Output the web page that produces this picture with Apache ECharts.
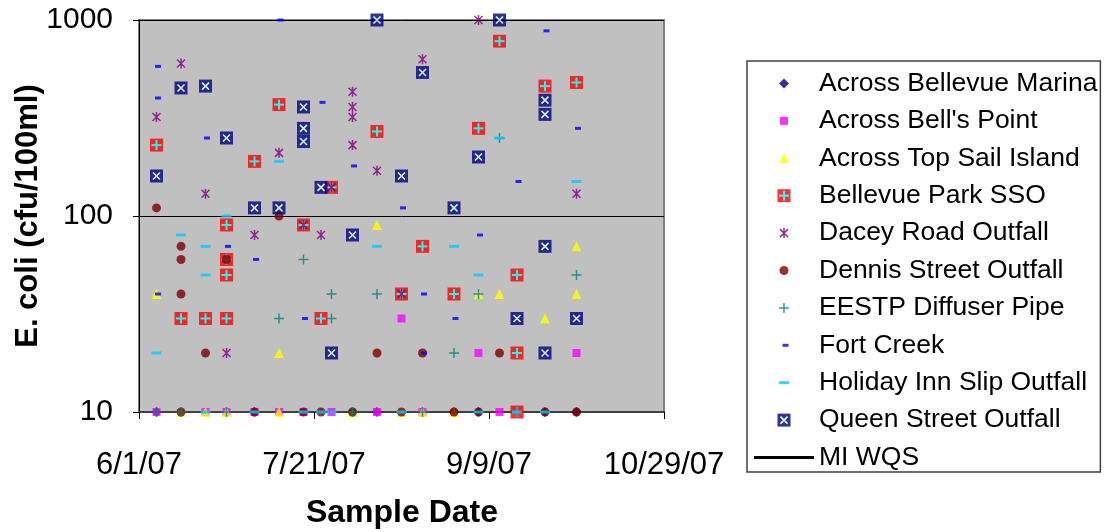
<!DOCTYPE html>
<html>
<head>
<meta charset="utf-8">
<script src="https://cdn.jsdelivr.net/npm/echarts@6/dist/echarts.min.js"></script>
<style>
  html, body { margin: 0; padding: 0; background: #fff; }
  #chart1 { width: 1104px; height: 532px; }
</style>
</head>
<body>
<div id="chart1"></div>
<script>
// sample data, [date, cfu/100ml]
var marinaData = [['6/6/07', 10], ['7/4/07', 10], ['8/1/07', 10], ['8/8/07', 10], ['8/30/07', 10], ['9/6/07', 10], ['9/25/07', 10], ['10/4/07', 10]];
var bellsPointData = [['6/6/07', 10], ['6/20/07', 10], ['6/26/07', 10], ['7/4/07', 10], ['7/11/07', 10], ['7/18/07', 10], ['7/26/07', 10], ['8/8/07', 10], ['8/15/07', 30], ['8/21/07', 10], ['9/6/07', 20], ['9/12/07', 10], ['10/4/07', 20]];
var topSailData = [['6/6/07', 40], ['6/13/07', 10], ['6/20/07', 10], ['6/26/07', 10], ['7/11/07', 20], ['7/11/07', 10], ['8/1/07', 10], ['8/8/07', 90], ['8/15/07', 10], ['8/21/07', 10], ['8/30/07', 10], ['9/6/07', 40], ['9/12/07', 40], ['9/25/07', 30], ['10/4/07', 70], ['10/4/07', 40]];
var ssoData = [['6/6/07', 230], ['6/13/07', 30], ['6/20/07', 30], ['6/26/07', 90], ['6/26/07', 60], ['6/26/07', 50], ['6/26/07', 30], ['7/4/07', 190], ['7/11/07', 370], ['7/18/07', 90], ['7/23/07', 30], ['7/26/07', 140], ['8/8/07', 270], ['8/15/07', 40], ['8/21/07', 70], ['8/30/07', 40], ['9/6/07', 280], ['9/12/07', 780], ['9/17/07', 50], ['9/17/07', 20], ['9/17/07', 10], ['9/25/07', 460], ['10/4/07', 480]];
var daceyData = [['6/6/07', 320], ['6/13/07', 600], ['6/20/07', 130], ['6/26/07', 20], ['7/4/07', 80], ['7/11/07', 210], ['7/18/07', 90], ['7/23/07', 80], ['7/26/07', 140], ['8/1/07', 430], ['8/1/07', 360], ['8/1/07', 320], ['8/1/07', 230], ['8/8/07', 170], ['8/15/07', 40], ['8/21/07', 630], ['9/6/07', 1000], ['10/4/07', 130]];
var dennisData = [['6/6/07', 110], ['6/13/07', 70], ['6/13/07', 60], ['6/13/07', 40], ['6/13/07', 10], ['6/20/07', 20], ['6/26/07', 60], ['7/4/07', 10], ['7/11/07', 100], ['7/18/07', 10], ['7/23/07', 10], ['8/1/07', 10], ['8/8/07', 20], ['8/15/07', 10], ['8/21/07', 20], ['8/30/07', 10], ['9/6/07', 10], ['9/12/07', 20], ['9/25/07', 10], ['10/4/07', 10]];
var eestpData = [['6/6/07', 10], ['6/13/07', 10], ['6/26/07', 10], ['7/11/07', 30], ['7/18/07', 60], ['7/26/07', 40], ['7/26/07', 30], ['8/1/07', 10], ['8/8/07', 40], ['8/21/07', 10], ['8/30/07', 20], ['9/6/07', 40], ['9/12/07', 250], ['9/17/07', 10], ['10/4/07', 50]];
var fortCreekData = [['6/6/07', 580], ['6/6/07', 400], ['6/6/07', 40], ['6/20/07', 250], ['6/26/07', 70], ['7/4/07', 60], ['7/11/07', 1000], ['7/18/07', 30], ['7/23/07', 380], ['8/1/07', 180], ['8/15/07', 110], ['8/21/07', 40], ['8/21/07', 20], ['8/30/07', 30], ['9/6/07', 80], ['9/17/07', 150], ['9/25/07', 880], ['10/4/07', 280]];
var holidayData = [['6/6/07', 20], ['6/13/07', 80], ['6/20/07', 70], ['6/20/07', 50], ['6/20/07', 10], ['6/26/07', 100], ['7/4/07', 10], ['7/11/07', 190], ['7/18/07', 10], ['7/23/07', 10], ['7/26/07', 10], ['8/8/07', 70], ['8/15/07', 10], ['8/30/07', 70], ['9/6/07', 50], ['9/6/07', 10], ['9/12/07', 250], ['9/17/07', 10], ['9/25/07', 10], ['10/4/07', 150]];
var queenData = [['6/6/07', 160], ['6/13/07', 450], ['6/20/07', 460], ['6/26/07', 250], ['7/4/07', 110], ['7/11/07', 110], ['7/18/07', 360], ['7/18/07', 280], ['7/18/07', 240], ['7/23/07', 140], ['7/26/07', 20], ['8/1/07', 80], ['8/8/07', 1000], ['8/15/07', 160], ['8/21/07', 540], ['8/30/07', 110], ['9/6/07', 200], ['9/12/07', 1000], ['9/17/07', 30], ['9/25/07', 390], ['9/25/07', 330], ['9/25/07', 70], ['9/25/07', 20], ['10/4/07', 30]];

var seriesNames = ['Across Bellevue Marina', "Across Bell's Point", 'Across Top Sail Island', 'Bellevue Park SSO',
    'Dacey Road Outfall', 'Dennis Street Outfall', 'EESTP Diffuser Pipe', 'Fort Creek',
    'Holiday Inn Slip Outfall', 'Queen Street Outfall', 'MI WQS'];

// x axis runs in days from 6/1/07
var xStart = new Date(2007, 5, 1);
function toDay(s) {
    var p = s.split('/');
    var d = new Date(2000 + Number(p[2]), Number(p[0]) - 1, Number(p[1]));
    return Math.round((d - xStart) / 86400000);
}
function dayLabel(v) {
    var d = new Date(2007, 5, 1 + v);
    return (d.getMonth() + 1) + '/' + d.getDate() + '/' + String(d.getFullYear()).slice(2);
}
function toPoints(arr) {
    var out = [];
    for (var i = 0; i < arr.length; i++) {
        out.push([toDay(arr[i][0]), arr[i][1]]);
    }
    return out;
}

// excel style markers, all in a 14x14 box so chart and legend match
function icon(inner) {
    var svg = '<svg xmlns="http://www.w3.org/2000/svg" width="14" height="14" viewBox="0 0 14 14">' + inner + '</svg>';
    return 'image://data:image/svg+xml;charset=utf-8,' + encodeURIComponent(svg);
}
var markers = [
    icon('<polygon points="7,2 12,7 7,12 2,7" fill="#000080"/>'),
    icon('<rect x="3" y="3" width="8" height="8" fill="#FF00FF"/>'),
    icon('<polygon points="7,2 12,12 2,12" fill="#FFFF00"/>'),
    icon('<rect x="0.5" y="0.5" width="13" height="13" fill="#FF0000"/><rect x="6" y="2" width="2" height="10" fill="#00FFFF"/><rect x="2" y="6" width="10" height="2" fill="#00FFFF"/>'),
    icon('<path d="M3,3 L11,11 M11,3 L3,11 M7,2 L7,12" stroke="#800080" stroke-width="1.5" fill="none"/>'),
    icon('<circle cx="7" cy="7" r="4.5" fill="#800000"/>'),
    icon('<path d="M7,2 L7,12 M2,7 L12,7" stroke="#008080" stroke-width="1.5" fill="none"/>'),
    icon('<rect x="5.5" y="5.5" width="6" height="3" fill="#0000FF"/>'),
    icon('<rect x="2" y="5.5" width="10" height="3" fill="#00CCFF"/>'),
    icon('<rect x="0.5" y="0.5" width="13" height="13" fill="#000080"/><path d="M3.5,3.5 L10.5,10.5 M10.5,3.5 L3.5,10.5" stroke="#CCFFFF" stroke-width="1.6" fill="none"/>')
];
var allData = [marinaData, bellsPointData, topSailData, ssoData, daceyData, dennisData,
    eestpData, fortCreekData, holidayData, queenData];

function drawChart() {
    var myChart = echarts.init(document.getElementById('chart1'));
    var series = [];
    for (var i = 0; i < allData.length; i++) {
        series.push({
            name: seriesNames[i],
            type: 'scatter',
            symbol: markers[i],
            symbolSize: 14,
            clip: false,
            data: toPoints(allData[i])
        });
    }
    series.push({
        name: 'MI WQS',
        type: 'line',
        data: [],
        itemStyle: { color: '#000' },
        lineStyle: { color: '#000', width: 3 }
    });

    var legendData = [];
    for (var j = 0; j < seriesNames.length; j++) {
        if (seriesNames[j] == 'MI WQS') {
            legendData.push({ name: 'MI WQS', icon: 'path://M0,0 L60,0 L60,3 L0,3 Z' });
        } else {
            legendData.push({ name: seriesNames[j] });
        }
    }

    var option = {
        backgroundColor: '#fff',
        animation: false,
        textStyle: { fontFamily: 'Liberation Sans, Arial, sans-serif' },
        grid: {
            left: 139, right: 440, top: 20, bottom: 120,
            show: true,
            backgroundColor: '#C0C0C0',
            borderColor: '#808080',
            borderWidth: 2,
            containLabel: false,
            outerBoundsMode: 'none'
        },
        legend: {
            orient: 'vertical',
            left: 747,
            top: 61,
            padding: [9, 3, 1, 7],
            itemWidth: 60,
            itemHeight: 14,
            itemGap: 10.4,
            borderColor: '#404040',
            borderWidth: 1.5,
            backgroundColor: '#fff',
            selectedMode: false,
            data: legendData,
            textStyle: {
                color: '#000',
                fontSize: 26.5,
                lineHeight: 26,
                fontFamily: 'Liberation Sans, Arial, sans-serif'
            }
        },
        xAxis: {
            type: 'value',
            min: 0,
            max: 150,
            interval: 50,
            axisLine: { show: true, onZero: false, lineStyle: { color: '#404040', width: 2 } },
            axisTick: { show: true, inside: false, length: 7, lineStyle: { color: '#000' } },
            splitLine: { show: false },
            axisLabel: {
                color: '#000',
                fontSize: 31,
                margin: 38,
                formatter: dayLabel
            }
        },
        yAxis: {
            type: 'log',
            logBase: 10,
            min: 10,
            max: 1000,
            axisLine: { show: true, lineStyle: { color: '#000', width: 1 } },
            axisTick: { show: true, inside: false, length: 6, lineStyle: { color: '#000' } },
            splitLine: { show: true, lineStyle: { color: '#000', width: 1 } },
            axisLabel: {
                color: '#000',
                fontSize: 30,
                margin: 26,
                formatter: function (v) { return String(Math.round(v)); }
            }
        },
        graphic: [
            {
                type: 'text',
                x: 28, y: 216,
                rotation: Math.PI / 2,
                style: {
                    text: 'E. coli (cfu/100ml)',
                    fill: '#000',
                    font: 'bold 31px "Liberation Sans", Arial, sans-serif',
                    align: 'center',
                    verticalAlign: 'middle'
                }
            },
            {
                type: 'text',
                x: 402, y: 513,
                style: {
                    text: 'Sample Date',
                    fill: '#000',
                    font: 'bold 32px "Liberation Sans", Arial, sans-serif',
                    align: 'center',
                    verticalAlign: 'middle'
                }
            }
        ],
        series: series
    };
    myChart.setOption(option);
}

drawChart();
</script>
</body>
</html>
